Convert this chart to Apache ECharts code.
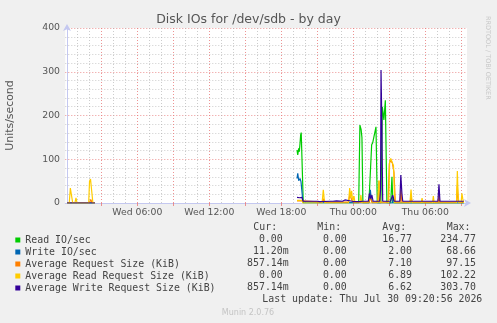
<!DOCTYPE html>
<html><head><meta charset="utf-8">
<script src="https://cdn.jsdelivr.net/npm/echarts@6/dist/echarts.min.js"></script>
<style>html,body{margin:0;padding:0;background:#f0f0f0}#c{width:497px;height:323px}</style>
</head><body><div id="c"></div>
<script>
// ---- data (x = hours since Wed 00:00) ----
const seriesNames = ['Read IO/sec','Write IO/sec','Average Request Size (KiB)','Average Read Request Size (KiB)','Average Write Request Size (KiB)'];
const seriesColors = ['#00cc00','#0066b3','#ff8000','#ffcc00','#330099'];

const readIO = [[0.15,0],[2.47,0],[10,'-'],
 [19.31,121],[19.37,110],[19.45,125],[19.5,117],[19.56,136],[19.61,155],[19.66,161],[19.73,159],[19.83,0],
 [24.45,0],[24.55,178],[24.65,168],[24.72,150],[24.8,0],
 [25.3,0],[25.53,133],[25.62,138],[25.67,145],[25.75,142],[25.89,174],[26.0,0],
 [26.3,0],[26.42,220],[26.55,190],[26.67,235],[26.8,0],
 [27.12,0],[27.22,60],[27.3,0],[33.2,0]];

const writeIO = [[0.15,0],[2.47,0],[10,'-'],
 [19.31,56],[19.37,68],[19.45,51],[19.56,56],[19.64,49],[19.73,48],[19.8,3],[19.9,0],
 [25.3,0],[25.42,30],[25.5,8],[25.6,0],[27.25,0],[27.35,14],[27.45,0],[33.2,0]];

const avgReqSize = [[0.15,0],[2.0,0],[2.12,8],[2.25,0],[2.47,0],[10,'-'],
 [19.31,5],[19.72,5],[19.81,2],[21.4,2],[21.5,10],[21.6,2],[23.6,2],[23.72,20],[23.85,8],[24.0,2],
 [25.3,2],[25.42,12],[25.55,2],[26.05,2],[26.14,50],[26.22,2],
 [26.9,2],[27.0,90],[27.1,97],[27.25,92],[27.39,70],[27.5,2],
 [27.9,2],[27.97,30],[28.05,2],[28.75,2],[28.81,15],[28.9,2],
 [31.08,2],[31.14,20],[31.2,2],[32.6,2],[32.67,40],[32.75,2],[33.2,2]];

const avgReadSize = [[0.15,0],[0.33,0],[0.42,34],[0.5,37],[0.62,0],[0.8,0],[0.89,12],[0.98,0],
 [1.95,0],[2.02,50],[2.1,55],[2.2,52],[2.3,0],[2.47,0],[10,'-'],
 [19.31,6],[19.73,6],[19.8,0],[20.0,0],[20.1,3],[20.2,0],[21.4,0],[21.5,30],[21.58,8],[21.65,0],
 [23.6,0],[23.7,34],[23.78,12],[23.86,28],[23.95,4],[24.06,16],[24.14,0],
 [24.55,0],[24.63,18],[24.72,0],[26.05,0],[26.14,52],[26.22,0],
 [26.95,0],[27.03,95],[27.12,102],[27.25,98],[27.35,85],[27.45,0],
 [28.72,0],[28.81,31],[28.9,0],[29.66,0],[29.73,11],[29.8,0],[30.6,0],[30.67,16],[30.74,0],
 [32.6,0],[32.67,73],[32.73,20],[32.8,0],[32.98,0],[33.05,22],[33.12,10],[33.2,0]];

const avgWriteSize = [[0.15,0],[2.05,0],[2.14,4],[2.22,0],[2.47,0],[10,'-'],
 [19.31,13],[19.4,14],[19.55,12],[19.72,13],[19.81,4],[20.2,4],[20.3,2],[20.4,4],[21.0,4],[21.1,6],[21.2,3],
 [22.1,4],[22.2,1],[22.3,4],[22.6,5],[22.7,2],[23.1,4],[23.3,7],[23.4,4],[23.9,4],[24.0,8],[24.1,3],
 [24.5,3],[24.8,4],[25.25,4],[25.35,22],[25.45,10],[25.55,18],[25.65,4],
 [26.2,4],[26.27,30],[26.31,304],[26.38,180],[26.45,4],
 [27.1,4],[27.28,18],[27.4,4],[27.88,4],[27.96,64],[28.05,22],[28.12,4],
 [28.8,4],[28.9,2],[29.3,4],[29.9,4],[30.0,2],[30.1,4],[31.05,4],[31.14,43],[31.22,4],
 [32.0,4],[32.1,2],[32.2,4],[33.2,4]];

const xTickHours = [6,12,18,24,30];
const xTickLabels = ['Wed 06:00','Wed 12:00','Wed 18:00','Thu 00:00','Thu 06:00'];

const curVals = ['0.00','11.20m','857.14m','0.00','857.14m'];
const minVals = ['0.00','0.00','0.00','0.00','0.00'];
const avgVals = ['16.77','2.00','7.10','6.89','6.62'];
const maxVals = ['234.77','68.66','97.15','102.22','303.70'];
const lastUpdate = 'Last update: Thu Jul 30 09:20:56 2026';

// ---- chart ----
const X_MIN = 0, X_MAX = 33.475;
const mono = '"DejaVu Sans Mono"';
const sans = '"DejaVu Sans"';
const RED = 'rgba(232,120,120,0.8)';
const GRAY = 'rgba(170,170,170,0.6)';
const AXIS = '#c4c8f0';

const allData = [readIO, writeIO, avgReqSize, avgReadSize, avgWriteSize];

const graphics = [];
const rowY = [239.7, 251.7, 263.7, 275.7, 287.7];
const hdr = [['Cur:',253.3],['Min:',317.3],['Avg:',382.3],['Max:',446.7]];
hdr.forEach(h => graphics.push({type:'text', x:h[1], y:227.7, style:{text:h[0], fill:'#444', font:'9.9px '+mono, align:'left', verticalAlign:'middle'}}));
const cols = [[curVals,282.7],[minVals,346.7],[avgVals,412],[maxVals,476]];
cols.forEach(c => c[0].forEach((v,i) => {
  const hasSuf = /m$/.test(v);
  graphics.push({type:'text', x: c[1] + (hasSuf ? 5.96 : 0), y: rowY[i], style:{text:v, fill:'#444', font:'9.9px '+mono, align:'right', verticalAlign:'middle'}});
}));
graphics.push({type:'text', x:482.3, y:299.7, style:{text:lastUpdate, fill:'#444', font:'9.9px '+mono, align:'right', verticalAlign:'middle'}});
graphics.push({type:'text', x:248, y:312.5, style:{text:'Munin 2.0.76', fill:'#c4c4c4', font:'8px '+sans, align:'center', verticalAlign:'middle'}});
graphics.push({type:'text', x:488, y:16, rotation:-Math.PI/2, style:{text:'RRDTOOL / TOBI OETIKER', fill:'#c8c8c8', font:'6.5px '+sans, align:'left', verticalAlign:'middle'}});

const chart = echarts.init(document.getElementById('c'), null, {renderer:'canvas'});
chart.setOption({
  animation: false,
  backgroundColor: '#f0f0f0',
  title: {text:'Disk IOs for /dev/sdb - by day', left:'center', top:12, padding:0,
    textStyle:{fontFamily:sans, fontSize:12.5, fontWeight:'normal', color:'#555', lineHeight:15}},
  grid: {left:65.3, right:30, top:28, bottom:120, show:true, backgroundColor:'#ffffff', borderWidth:0,
    containLabel:false, outerBoundsMode:'none'},
  legend: {show:true, orient:'vertical', left:15.3, top:234, padding:0, itemGap:0, itemWidth:5, itemHeight:5,
    icon:'rect', selectedMode:false, data: seriesNames,
    textStyle:{fontFamily:mono, fontSize:9.9, color:'#444', lineHeight:12}},
  xAxis: {type:'value', min:X_MIN, max:X_MAX, interval:3,
     axisLine:{show:true, lineStyle:{color:AXIS, width:1}, symbol:['none','arrow'], symbolSize:[6,7], symbolOffset:[0,4]},
     axisTick:{show:true, length:3, inside:false, lineStyle:{color:RED}},
     axisLabel:{show:true, showMinLabel:false, showMaxLabel:false, margin:5, color:'#555', fontFamily:sans, fontSize:9.3,
       formatter: v => { const i = xTickHours.indexOf(Math.round(v*1000)/1000); return i>=0 ? xTickLabels[i] : ''; }},
     splitLine:{show:true, showMinLine:false, showMaxLine:false, lineStyle:{color:RED, type:[1,2], width:1}},
     minorTick:{show:false, splitNumber:3},
     minorSplitLine:{show:true, lineStyle:{color:GRAY, type:[1,2], width:1}}},
  yAxis: {type:'value', min:0, max:400, interval:100, offset:-1.7,
    name:'Units/second', nameLocation:'middle', nameGap:51, nameRotate:90,
    nameTextStyle:{fontFamily:sans, fontSize:10.9, color:'#555'},
    axisLine:{show:true, lineStyle:{color:AXIS, width:1}, symbol:['none','arrow'], symbolSize:[6,7], symbolOffset:[0,4]},
    axisTick:{show:false},
    axisLabel:{margin:7, color:'#555', fontFamily:sans, fontSize:9.3},
    splitLine:{show:true, lineStyle:{color:RED, type:[1,2], width:1}},
    minorTick:{show:false, splitNumber:5},
    minorSplitLine:{show:true, lineStyle:{color:GRAY, type:[1,2], width:1}}},
  series: allData.map((d,i) => ({
    name: seriesNames[i], type:'line', data:d, showSymbol:false, symbol:'none',
    connectNulls:false, clip:true, color: seriesColors[i],
    lineStyle:{color:seriesColors[i], width:1.2}, emphasis:{disabled:true}, z: 3+i
  })),
  graphic: graphics
});
</script></body></html>
